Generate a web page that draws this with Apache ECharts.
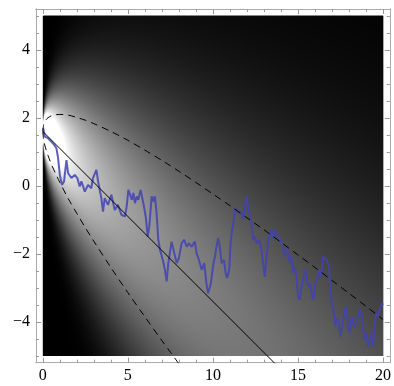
<!DOCTYPE html>
<html>
<head>
<meta charset="utf-8">
<script src="https://cdn.jsdelivr.net/npm/echarts@6/dist/echarts.min.js"></script>
<style>
html,body{margin:0;padding:0;background:#fff;}
#chart{width:394px;height:386px;}
</style>
</head>
<body>
<div id="chart"></div>
<script>
// ---- data ----
// Brownian path with drift (blue)
const pathX = [0.02,0.12,0.31,0.50,0.66,0.80,0.90,1.00,1.13,1.25,
1.39,1.49,1.68,1.88,2.03,2.17,2.27,2.47,2.66,2.85,
2.95,3.15,3.25,3.44,3.54,3.64,3.83,4.03,4.23,4.42,
4.62,4.83,4.93,5.03,5.13,5.23,5.32,5.42,5.52,5.61,
5.75,5.91,6.05,6.17,6.26,6.40,6.49,6.59,6.69,6.79,
6.89,7.08,7.18,7.28,7.38,7.57,7.73,7.87,8.00,8.16,
8.31,8.46,8.59,8.75,8.94,9.04,9.18,9.34,9.49,9.63,
9.72,9.88,10.02,10.12,10.18,10.31,10.41,10.51,10.65,10.75,
10.84,10.96,11.04,11.13,11.23,11.29,11.39,11.54,11.69,11.78,
11.88,11.98,12.07,12.17,12.27,12.37,12.47,12.57,12.72,12.86,
12.95,13.05,13.15,13.25,13.35,13.45,13.54,13.64,13.74,13.83,
13.93,14.03,14.13,14.23,14.33,14.42,14.52,14.62,14.72,14.82,
14.91,15.01,15.11,15.21,15.30,15.40,15.50,15.60,15.70,15.80,
15.89,15.95,16.03,16.15,16.28,16.38,16.48,16.58,16.68,16.77,
16.83,16.91,17.01,17.12,17.20,17.30,17.40,17.50,17.59,17.75,
17.85,17.94,18.04,18.14,18.24,18.34,18.44,18.53,18.63,18.73,
18.83,18.93,19.03,19.12,19.22,19.32,19.41,19.51,19.61,19.71,
19.81,19.94,20.0];
const pathY = [1.70,1.45,1.40,1.30,1.21,1.11,0.81,0.32,0.03,0.13,
0.76,0.37,0.23,0.32,0.23,-0.02,0.13,-0.17,0.03,-0.07,
0.23,0.47,0.13,-0.36,-0.76,-0.36,-0.56,-0.26,-0.71,-0.56,
-0.85,-0.90,-0.61,-0.12,-0.26,-0.41,-0.21,-0.51,-0.31,-0.41,
-0.12,-0.51,-0.90,-1.49,-1.20,-0.31,-0.46,-0.31,-0.80,-1.59,
-1.88,-2.23,-2.47,-2.81,-2.27,-1.64,-1.98,-2.27,-2.13,-1.69,
-1.59,-1.79,-1.69,-1.79,-1.64,-1.98,-2.18,-2.47,-2.27,-2.91,
-3.16,-2.86,-2.32,-2.08,-1.88,-1.54,-1.79,-2.27,-2.18,-2.57,
-2.71,-2.47,-1.69,-1.29,-1.00,-0.66,-0.61,-0.80,-0.76,-1.00,
-0.51,-0.31,-0.61,-0.90,-1.15,-1.59,-1.49,-1.69,-1.59,-1.88,
-2.27,-2.67,-2.08,-1.59,-1.39,-1.29,-1.54,-1.29,-1.44,-1.49,
-1.54,-1.69,-1.88,-2.08,-1.79,-1.98,-2.27,-2.08,-2.57,-2.37,
-2.67,-3.26,-3.35,-2.96,-2.76,-2.47,-2.67,-2.96,-2.86,-3.16,
-3.35,-3.26,-2.86,-2.67,-2.47,-2.67,-2.08,-2.03,-2.18,-2.13,
-2.37,-3.06,-3.55,-3.74,-4.14,-3.89,-4.04,-4.43,-4.14,-3.65,
-3.55,-4.14,-4.33,-3.84,-4.04,-4.14,-3.94,-3.84,-3.65,-3.74,
-4.24,-4.53,-4.33,-4.73,-4.53,-4.33,-4.73,-4.04,-3.74,-3.84,
-3.65,-3.45,-3.50];

// mean line (solid)
const meanX = [0, 20];
const meanY = [1.6, -8.4];

// upper / lower band (dashed)
const bandX     = [0, 0.05, 0.1, 0.2, 0.3, 0.5, 0.75, 1, 1.5, 2, 2.5, 3, 4, 5, 6, 7, 7.5, 8, 9, 10, 11, 12, 13, 14, 15, 16, 17, 18, 19, 20];
const bandUpper = [1.6, 1.80, 1.87, 1.95, 2.00, 2.06, 2.09, 2.10, 2.08, 2.01, 1.93, 1.83, 1.60, 1.34, 1.05, 0.75, 0.59, 0.43, 0.10, -0.24, -0.58, -0.94, -1.29, -1.66, -2.03, -2.40, -2.78, -3.16, -3.54, -3.93];
const bandLower = [1.6, 1.35, 1.23, 1.05, 0.90, 0.64, 0.36, 0.10, -0.38, -0.81, -1.23, -1.63, -2.40, -3.14, -3.85, -4.55, -4.89, -5.23, null, null, null, null, null, null, null, null, null, null, null, null];

// density background parameters
const startValue = 1.6, drift = -0.5, sigma = 1.0, brightness = 2.9, gamma = 0.7;

// tick labels
const xMajor = [0, 5, 10, 15, 20];
const xMinor = [1,2,3,4,6,7,8,9,11,12,13,14,16,17,18,19];
const yMajor = [-4, -2, 0, 2, 4];
const yMinor = [-5,-4.5,-3.5,-3,-2.5,-1.5,-1,-0.5,0.5,1,1.5,2.5,3,3.5,4.5,5];

// ---- build ----
const colStep = 0.05;
const nCols = Math.round(20 / colStep);
const cols = [];
for (let i = 0; i < nCols; i++) cols.push([i * colStep, 0]);

function grayAt(t, y) {
  if (t <= 0) return 0;
  const sd = sigma * Math.sqrt(t);
  const z = (y - (startValue + drift * t)) / sd;
  const p = Math.exp(-z * z / 2) / (sd * Math.sqrt(2 * Math.PI));
  return Math.pow(Math.min(1, brightness * p), gamma);
}
function colStops(t) {
  const stops = [];
  const N = 240;
  for (let k = 0; k <= N; k++) {
    const y = 5 - 10 * k / N;
    const g = Math.round(255 * grayAt(t, y));
    stops.push({offset: k / N, color: 'rgb(' + g + ',' + g + ',' + g + ')'});
  }
  return stops;
}

const frameColor = '#aaaaaa';
const tickColor = '#999999';
const labelFont = {fontFamily: 'Liberation Serif', fontSize: 16, color: '#000'};
const fmt = v => String(v).replace('-', '\u2212');

function xAx(pos, values, len, labels) {
  return {
    type: 'value', position: pos, min: -0.4, max: 20.4,
    axisLine: {show: true, onZero: false, lineStyle: {color: frameColor, width: 1}},
    axisTick: {show: true, inside: true, length: len, customValues: values, lineStyle: {color: tickColor, width: 1}},
    axisLabel: labels ? Object.assign({show: true, customValues: values, margin: 5, formatter: fmt}, labelFont) : {show: false},
    splitLine: {show: false}
  };
}
function yAx(pos, values, len, labels) {
  return {
    type: 'value', position: pos, min: -5.2, max: 5.2,
    axisLine: {show: true, onZero: false, lineStyle: {color: frameColor, width: 1}},
    axisTick: {show: true, inside: true, length: len, customValues: values, lineStyle: {color: tickColor, width: 1}},
    axisLabel: labels ? Object.assign({show: true, customValues: values, margin: 6, formatter: fmt}, labelFont) : {show: false},
    splitLine: {show: false}
  };
}

const chart = echarts.init(document.getElementById('chart'), null, {renderer: 'canvas'});
chart.setOption({
  animation: false,
  backgroundColor: '#fff',
  grid: {left: 36, top: 9, width: 354, height: 353.7, containLabel: false},
  xAxis: [xAx('bottom', xMajor, 5, true), xAx('bottom', xMinor, 3, false), xAx('top', xMajor, 5, false), xAx('top', xMinor, 3, false)],
  yAxis: [yAx('left', yMajor, 5, true), yAx('left', yMinor, 3, false), yAx('right', yMajor, 5, false), yAx('right', yMinor, 3, false)],
  series: [
    {
      type: 'custom', silent: true, z: 1,
      data: cols,
      renderItem: function (params, api) {
        const t0 = api.value(0);
        const t1 = Math.min(20, t0 + colStep);
        const p0 = api.coord([t0, 5]);
        const p1 = api.coord([t1, -5]);
        const last = t1 >= 20 - 1e-9;
        return {
          type: 'rect',
          shape: {x: p0[0], y: p0[1], width: p1[0] - p0[0] + (last ? 0 : 1.2), height: p1[1] - p0[1]},
          style: {fill: {type: 'linear', x: 0, y: 0, x2: 0, y2: 1, global: false, colorStops: colStops(t0 + colStep / 2)}},
          silent: true
        };
      }
    },
    {
      type: 'line', z: 3, showSymbol: false, silent: true, clip: true,
      data: pathX.map((x, i) => [x, pathY[i]]),
      lineStyle: {color: 'rgb(66,66,178)', width: 2, opacity: 0.85}
    },
    {
      type: 'line', z: 4, showSymbol: false, silent: true, clip: true,
      data: meanX.map((x, i) => [x, meanY[i]]),
      lineStyle: {color: '#000', width: 1}
    },
    {
      type: 'line', z: 4, showSymbol: false, silent: true, clip: true, smooth: 0.3,
      data: bandX.map((x, i) => [x, bandUpper[i]]),
      lineStyle: {color: '#000', width: 1, type: [7, 5]}
    },
    {
      type: 'line', z: 4, showSymbol: false, silent: true, clip: true, smooth: 0.3, connectNulls: false,
      data: bandX.map((x, i) => [x, bandLower[i]]),
      lineStyle: {color: '#000', width: 1, type: [7, 5]}
    }
  ]
});
</script>
</body>
</html>
